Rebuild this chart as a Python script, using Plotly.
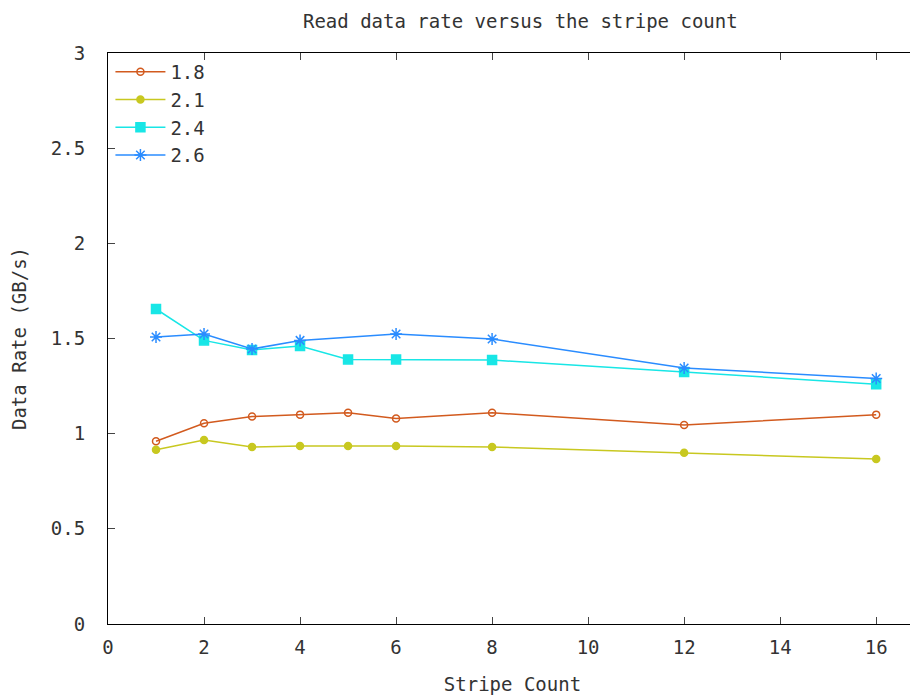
import plotly.graph_objects as go

stripe_counts = [1, 2, 3, 4, 5, 6, 8, 12, 16]
stripe_counts_26 = [1, 2, 3, 4, 6, 8, 12, 16]

rate_18 = [0.96, 1.055, 1.09, 1.10, 1.11, 1.08, 1.11, 1.045, 1.10]
rate_21 = [0.915, 0.967, 0.93, 0.935, 0.935, 0.935, 0.93, 0.90, 0.867]
rate_24 = [1.655, 1.49, 1.44, 1.46, 1.39, 1.39, 1.387, 1.324, 1.26]
rate_26 = [1.508, 1.524, 1.445, 1.49, 1.524, 1.497, 1.345, 1.29]

series = [
    ("1.8", stripe_counts, rate_18, "#d25a1e", "circle-open", 7),
    ("2.1", stripe_counts, rate_21, "#c8c820", "circle", 7),
    ("2.4", stripe_counts, rate_24, "#18e6e6", "square", 9),
    ("2.6", stripe_counts_26, rate_26, "#2a8cff", "asterisk-open", 10),
]

FONT = "DejaVu Sans Mono"
TXT = "#333333"

fig = go.Figure()
for name, xs, ys, color, sym, size in series:
    fig.add_trace(go.Scatter(
        x=xs, y=ys, name=name, mode="lines+markers",
        line=dict(color=color, width=1.5),
        marker=dict(symbol=sym, size=size, color=color,
                    line=dict(color=color, width=1.5)),
    ))

fig.update_layout(
    width=910, height=687,
    paper_bgcolor="white", plot_bgcolor="white",
    margin=dict(l=100, r=1, t=45, b=71),
    font=dict(family=FONT, size=19, color=TXT),
    title=dict(text="Read data rate versus the stripe count",
               x=0.563, xanchor="center", yref="container",
               y=0.981, yanchor="middle",
               font=dict(family=FONT, size=19, color=TXT)),
    showlegend=True,
    legend=dict(x=0.003, y=1.0, xanchor="left", yanchor="top",
                bgcolor="rgba(0,0,0,0)", font=dict(family=FONT, size=19, color=TXT),
                itemwidth=50, tracegroupgap=0),
)
fig.update_xaxes(
    range=[0, 16.85], tickmode="array", tickvals=list(range(0, 17, 2)),
    ticks="inside", ticklen=7, mirror="ticks", showline=True,
    linecolor="black", linewidth=1, showgrid=False, zeroline=False,
    automargin=False, ticklabelstandoff=6,
    tickfont=dict(family=FONT, size=19, color=TXT),
    title=dict(text="Stripe Count", standoff=20,
               font=dict(family=FONT, size=19, color=TXT)),
)
fig.update_yaxes(
    range=[0, 3], tickmode="array", tickvals=[0, 0.5, 1, 1.5, 2, 2.5, 3],
    ticktext=["0", "0.5", "1", "1.5", "2", "2.5", "3"],
    ticks="inside", ticklen=7, mirror="ticks", showline=True,
    linecolor="black", linewidth=1, showgrid=False, zeroline=False,
    automargin=False, ticklabelstandoff=18,
    tickfont=dict(family=FONT, size=19, color=TXT),
    title=dict(text="Data Rate (GB/s)", standoff=22,
               font=dict(family=FONT, size=19, color=TXT)),
)

fig.write_html("out.html")
